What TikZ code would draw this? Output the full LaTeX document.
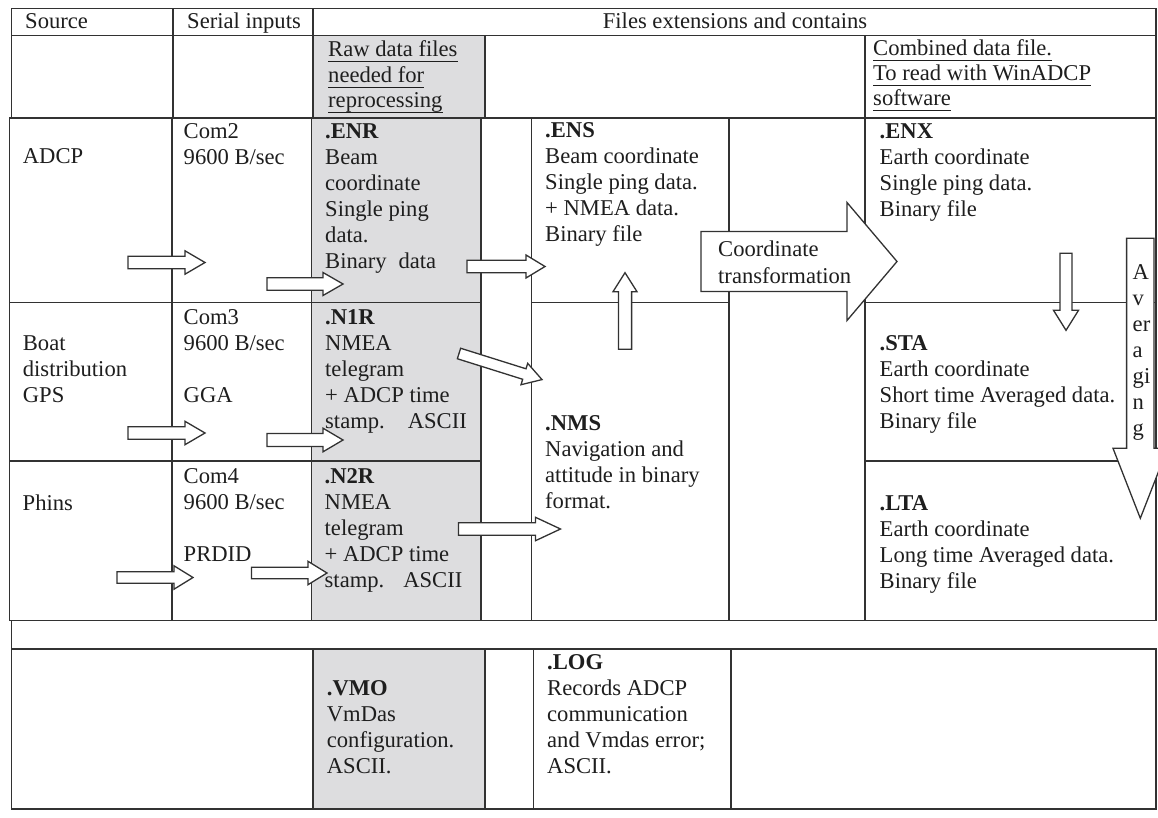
\documentclass[tikz,border=0pt]{standalone}
\usepackage{fontspec}
\setmainfont{Liberation Serif}
\definecolor{ln}{RGB}{50,50,50}
\definecolor{cellgray}{RGB}{221,221,223}
\definecolor{tx}{RGB}{30,30,30}
\tikzset{
  tbl/.style={draw=ln,line width=1.9pt},
  graycell/.style={fill=cellgray},
  barrowst/.style={draw=ln,line width=1.3pt,fill=white,line join=miter},
  txt/.style={inner sep=0pt,anchor=base west,text=tx,font=\fontsize{22.6}{26}\selectfont},
  ul/.style={draw=tx,line width=1.1pt},
}
\newcommand\cellt[1]{\parbox[t]{320pt}{\raggedright #1}}
\newcommand\barrow[8]{%
  \begin{scope}[shift={(#2,#3)},rotate=#4]
    \draw[barrowst] (0,-#6)--(#5-#8,-#6)--(#5-#8,-#7)--(#5,0)--(#5-#8,#7)--(#5-#8,#6)--(0,#6)--cycle;
    \coordinate (#1) at (#5,0);
  \end{scope}}
\newcommand\ulnode[1]{\draw[ul] ([yshift=-4.6pt]#1.base west) -- ([yshift=-4.6pt]#1.base east);}
\begin{document}
\begin{tikzpicture}[x=1pt,y=-1pt]
\useasboundingbox[fill=white] (0,0) rectangle (1158,818);
% grey cells
\path[graycell] (313,35.5) rectangle (485,117.5);
\path[graycell] (311.5,118) rectangle (481,620.5);
\path[graycell] (313,649.3) rectangle (485,809);
% header rows
\draw[tbl] (11.5,8.5) rectangle (1156,35.5);
\draw[tbl] (173,8.5)--(173,118) (313,8.5)--(313,118);
\draw[tbl] (11.5,35.5)--(11.5,118) (485,35.5)--(485,118) (865,35.5)--(865,118) (1156,35.5)--(1156,118);
% body
\draw[tbl] (9.5,118) rectangle (1156,620.5);
\draw[tbl] (172,118)--(172,620.5) (311.5,118)--(311.5,620.5) (481,118)--(481,620.5)
  (531.5,118)--(531.5,620.5) (729,118)--(729,620.5) (865,118)--(865,620.5);
\draw[tbl] (9.5,302.5)--(481,302.5) (531.5,302.5)--(729,302.5) (865,302.5)--(1156,302.5);
\draw[tbl] (9.5,461)--(481,461) (865,461)--(1156,461);
% empty row and bottom row
\draw[tbl] (11.5,620.5)--(11.5,649.3);
\draw[tbl] (11.5,649.3) rectangle (1156,809);
\draw[tbl] (313,649.3)--(313,809) (485,649.3)--(485,809) (533.5,649.3)--(533.5,809) (731,649.3)--(731,809);
% block arrows
\barrow{t-a1}{128}{262.5}{0}{77}{6.2}{11.7}{20}
\barrow{t-a2}{267}{284}{0}{76}{6.2}{11.5}{20}
\barrow{t-b1}{128}{433}{0}{77}{6.2}{11.7}{20}
\barrow{t-b2}{267}{440}{0}{76}{6.5}{11.8}{20}
\barrow{t-p1}{117}{577.5}{0}{76}{5.8}{11.7}{19}
\barrow{t-p2}{251.5}{573}{0}{75.5}{5.8}{11.7}{19}
\barrow{t-e1}{467}{266.5}{0}{78}{6.2}{11.5}{19}
\barrow{t-n2}{458.5}{529}{0}{102}{6.2}{11.7}{25}
\barrow{t-n1}{459}{353.5}{-17.45}{87}{5.5}{11.2}{18.5}
\barrow{t-up}{625}{349.3}{90}{76.6}{6.6}{12}{19}
\barrow{t-dn}{1066}{253.3}{-90}{77}{6}{12.5}{20}
\barrow{t-ct}{701}{261.5}{0}{196}{30}{59}{50}
\barrow{t-av}{1140.3}{238.3}{-90}{280}{13.7}{27.3}{70}
% header texts
\node[txt] (hsrc) at (25,29) {Source};
\node[txt] (hser) at (187,29) {Serial inputs};
\node[txt,anchor=base] (hfiles) at (735,29) {Files extensions and contains};
\node[txt] (raw1) at (328,57) {Raw data files};
\node[txt] (raw2) at (328,82.5) {needed for};
\node[txt] (raw3) at (328,107.5) {reprocessing};
\node[txt] (cmb1) at (873,55.8) {Combined data file.};
\node[txt] (cmb2) at (873,80.8) {To read with WinADCP};
\node[txt] (cmb3) at (873,105.8) {software};
\ulnode{raw1}\ulnode{raw2}\ulnode{raw3}\ulnode{cmb1}\ulnode{cmb2}\ulnode{cmb3}
% body texts
\node[txt] (adcp) at (22.7,164) {ADCP};
\node[txt] (com2) at (183.5,138.3) {\cellt{Com2\\9600 B/sec}};
\node[txt] (enr) at (325,138.3) {\cellt{\textbf{.ENR}\\Beam\\coordinate\\Single ping\\data.\\Binary\hspace{11.8pt}data}};
\node[txt] (ens) at (545,137.8) {\cellt{\textbf{.ENS}\\Beam coordinate\\Single ping data.\\+ NMEA data.\\Binary file}};
\node[txt] (enx) at (879.5,138.3) {\cellt{\textbf{.ENX}\\Earth coordinate\\Single ping data.\\Binary file}};
\node[txt] (boat) at (22.7,350) {\cellt{Boat\\distribution\\GPS}};
\node[txt] (com3) at (183.5,324) {\cellt{Com3\\9600 B/sec\\[26pt]GGA}};
\node[txt] (n1r) at (325,324) {\cellt{\textbf{.N1R}\\NMEA\\telegram\\+ ADCP time\\stamp.\hspace{23pt}ASCII}};
\node[txt] (nms) at (545,430) {\cellt{\textbf{.NMS}\\Navigation and\\attitude in binary\\format.}};
\node[txt] (sta) at (879.5,350) {\cellt{\textbf{.STA}\\Earth coordinate\\Short time Averaged data.\\Binary file}};
\node[txt] (phins) at (22.5,510) {Phins};
\node[txt] (com4) at (183.5,483.3) {\cellt{Com4\\9600 B/sec\\[26pt]PRDID}};
\node[txt] (n2r) at (324.5,483.3) {\cellt{\textbf{.N2R}\\NMEA\\telegram\\+ ADCP time\\stamp.\hspace{19pt}ASCII}};
\node[txt] (lta) at (879.5,510) {\cellt{\textbf{.LTA}\\Earth coordinate\\Long time Averaged data.\\Binary file}};
\node[txt] (ctxt) at (718,257) {\cellt{Coordinate\\transformation}};
\node[txt] (avg) at (1132.5,279) {\cellt{A\\v\\er\\a\\gi\\n\\g}};
% bottom row texts
\node[txt] (vmo) at (326.7,695) {\cellt{\textbf{.VMO}\\VmDas\\configuration.\\ASCII.}};
\node[txt] (log) at (547,669.3) {\cellt{\textbf{.LOG}\\Records ADCP\\communication\\and Vmdas error;\\ASCII.}};
\end{tikzpicture}
\end{document}
